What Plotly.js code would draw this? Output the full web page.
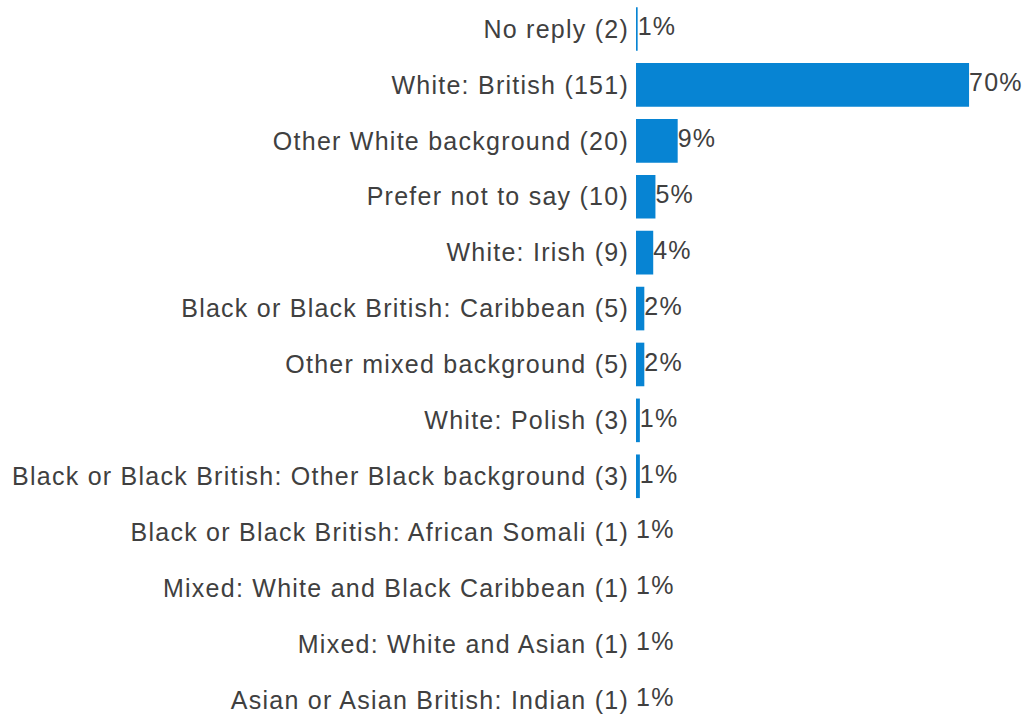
<!DOCTYPE html>
<html>
<head>
<meta charset="utf-8">
<script src="https://cdn.plot.ly/plotly-3.0.1.min.js"></script>
<style>
html,body{margin:0;padding:0;background:#fff;}
#chart text{letter-spacing:1.25px;}
</style>
</head>
<body>
<div id="chart" style="width:1028px;height:715px;"></div>
<script>
const categories = [
  "No reply (2)",
  "White: British (151)",
  "Other White background (20)",
  "Prefer not to say (10)",
  "White: Irish (9)",
  "Black or Black British: Caribbean (5)",
  "Other mixed background (5)",
  "White: Polish (3)",
  "Black or Black British: Other Black background (3)",
  "Black or Black British: African Somali (1)",
  "Mixed: White and Black Caribbean (1)",
  "Mixed: White and Asian (1)",
  "Asian or Asian British: Indian (1)"
];
const counts = [2, 151, 20, 10, 9, 5, 5, 3, 3, 1, 1, 1, 1];
const percentLabels = ["1%", "70%", "9%", "5%", "4%", "2%", "2%", "1%", "1%", "1%", "1%", "1%", "1%"];

const xMin = 1.26;
const xMax = 177.5;
const labelX = counts.map(v => Math.max(v, xMin));

const font = "Liberation Sans, Arial, sans-serif";
const textColor = "#404040";

const traces = [
  {
    type: "bar",
    orientation: "h",
    y: categories,
    x: counts,
    marker: {color: "#0784d3"},
    hoverinfo: "skip"
  },
  {
    type: "scatter",
    mode: "text",
    y: categories,
    x: labelX,
    text: percentLabels,
    textposition: "middle right",
    textfont: {family: font, size: 25, color: textColor},
    cliponaxis: false,
    hoverinfo: "skip"
  }
];

const layout = {
  width: 1028,
  height: 715,
  margin: {l: 636, r: 0, t: 0, b: 0, pad: 0},
  paper_bgcolor: "#ffffff",
  plot_bgcolor: "#ffffff",
  showlegend: false,
  bargap: 0.22,
  font: {family: font, size: 25, color: textColor},
  xaxis: {visible: false, range: [xMin, xMax], showgrid: false, zeroline: false, fixedrange: true},
  yaxis: {
    type: "category",
    categoryorder: "array",
    categoryarray: categories,
    range: [12.27, -0.519],
    showgrid: false,
    zeroline: false,
    showline: false,
    ticks: "",
    ticklabelstandoff: 6,
    tickfont: {family: font, size: 25, color: textColor},
    automargin: false,
    fixedrange: true
  }
};

Plotly.newPlot("chart", traces, layout, {displayModeBar: false, staticPlot: true});
</script>
</body>
</html>
